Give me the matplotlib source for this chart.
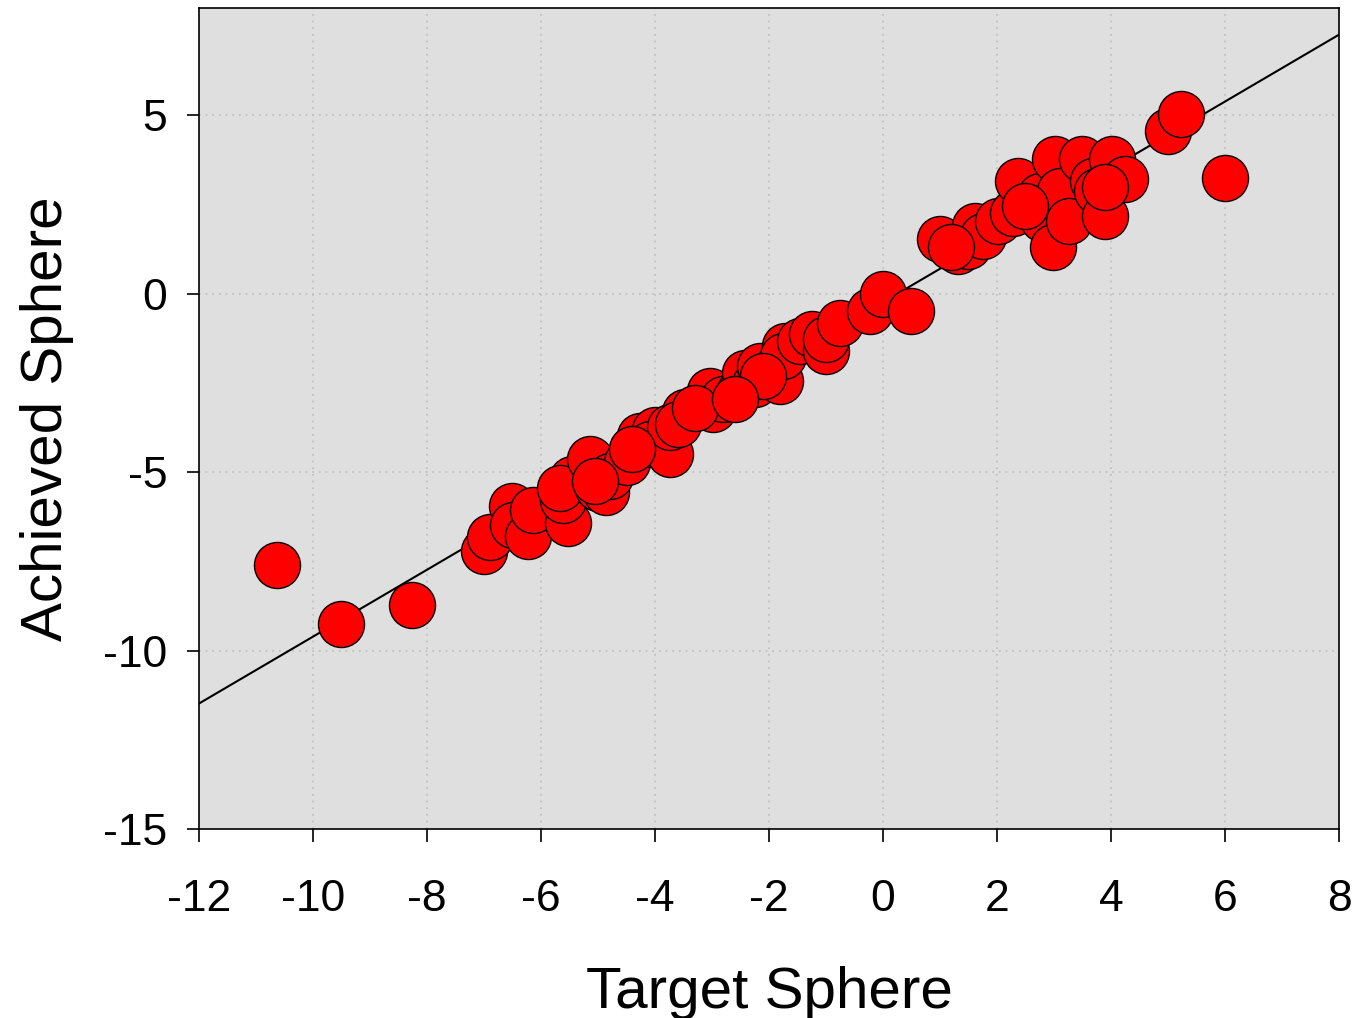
import numpy as np
import matplotlib
matplotlib.use("Agg")
import matplotlib.pyplot as plt

# Target vs achieved sphere
target = [-10.63, -9.51, -8.26, -7.0, -6.89, -6.51, -6.49, -6.23, -6.14, -5.53,
          -5.46, -5.61, -5.67, -5.14, -5.0, -4.86, -4.79, -4.49, -4.26, -4.0,
          -4.09, -3.74, -3.74, -3.47, -3.6, -3.04, -2.98, -2.8, -2.51, -2.42,
          -2.25, -2.16, -1.98, -1.81, -1.72, -1.75, -1.46, -1.25, -1.0, -1.0,
          -0.75, -0.23, 0.0, 0.49, 1.0, 1.32, 1.49, 1.61, 1.75, 2.02,
          2.28, 2.37, 2.75, 2.81, 2.98, 3.02, 3.1, 3.26, 3.49, 3.68,
          3.75, 3.89, 4.02, 4.25, 5.0, 5.23, 6.0, -2.1, -3.3, -4.4,
          -5.05, -2.6, 1.2, 3.9, 2.5]
achieved = [-7.61, -9.27, -8.73, -7.22, -6.83, -5.94, -6.47, -6.78, -6.07, -6.44,
            -5.18, -5.79, -5.46, -4.62, -5.46, -5.57, -5.1, -4.73, -4.0, -3.83,
            -4.2, -4.48, -3.75, -3.33, -3.65, -2.72, -3.22, -2.95, -2.72, -2.21,
            -2.52, -2.02, -2.21, -2.44, -1.46, -1.74, -1.32, -1.12, -1.6, -1.26,
            -0.81, -0.48, 0.0, -0.5, 1.54, 1.2, 1.34, 1.9, 1.62, 2.04,
            2.27, 3.16, 2.74, 2.1, 1.32, 3.78, 2.88, 2.04, 3.78, 3.16,
            2.88, 2.18, 3.78, 3.22, 4.56, 5.04, 3.25, -2.3, -3.2, -4.35,
            -5.25, -2.95, 1.3, 3.0, 2.45]

fit_x = [-12, 8]
fit_slope = 0.937
fit_icpt = -0.24

x_ticks = [-12, -10, -8, -6, -4, -2, 0, 2, 4, 6, 8]
y_ticks = [-15, -10, -5, 0, 5]

plt.rcParams['font.family'] = ['Liberation Sans', 'DejaVu Sans']
plt.rcParams['axes.unicode_minus'] = False

fig = plt.figure(figsize=(13.57, 10.18), dpi=100)
ax = fig.add_axes([0.1467, 0.1857, 0.84, 0.8063])
ax.set_facecolor('#dfdfdf')

# dotted grid at inner ticks
for t in x_ticks[1:-1]:
    ax.axvline(t, color='#bdbdbd', linestyle=(0, (1, 3)), linewidth=1.2, zorder=1)
for t in y_ticks[1:]:
    ax.axhline(t, color='#bdbdbd', linestyle=(0, (1, 3)), linewidth=1.2, zorder=1)

fx = np.array(fit_x, dtype=float)
ax.plot(fx, fit_slope * fx + fit_icpt, color='black', linewidth=1.5, zorder=2)

ax.scatter(target, achieved, s=1100, c='#ff0000', edgecolors='black',
           linewidths=1.0, zorder=3)

ax.set_xlim(-12, 8)
ax.set_ylim(-15, 8)
ax.set_xticks(x_ticks)
ax.set_yticks(y_ticks)
ax.tick_params(axis='x', direction='out', length=9, width=1.2, pad=27, labelsize=32)
ax.tick_params(axis='y', direction='out', length=9, width=1.2, pad=14, labelsize=32)
for sp in ax.spines.values():
    sp.set_linewidth(1.2)

ax.set_xlabel('Target Sphere', fontsize=42, labelpad=33)
ax.set_ylabel('Achieved Sphere', fontsize=42, labelpad=21)

fig.savefig('out.png', dpi=100)
